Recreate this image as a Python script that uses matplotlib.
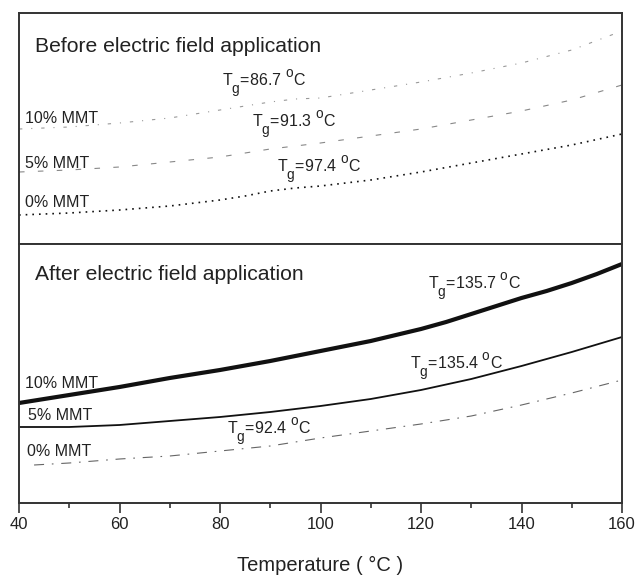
import matplotlib
matplotlib.use("Agg")
import matplotlib.pyplot as plt
from matplotlib.ticker import MultipleLocator
import matplotlib._mathtext as _mt

_mt.SHRINK_FACTOR = 0.85
_mt.FontConstantsBase.sub1 = 0.9
_mt.FontConstantsBase.sub2 = 0.9
_mt.FontConstantsBase.sup1 = 0.9

plt.rcParams['font.family'] = ['Liberation Sans', 'DejaVu Sans']
plt.rcParams['mathtext.fontset'] = 'custom'
plt.rcParams['mathtext.rm'] = 'Liberation Sans'
plt.rcParams['mathtext.it'] = 'Liberation Sans:italic'
plt.rcParams['mathtext.bf'] = 'Liberation Sans:bold'

# ---------------- data (arbitrary heat-flow units) ----------------
# Before electric field application
t_before = [40, 50, 60, 70, 80, 85, 90, 95, 100, 110, 120, 130, 140, 150, 160]
before_0 = [29, 31, 34, 38, 44, 48, 53, 56, 58, 64, 72, 81, 90, 99, 110]
before_5 = [72, 74, 77, 82, 87, 91, 95, 98, 101, 108, 115, 124, 133, 144, 159]
before_10 = [115, 117, 121, 126, 134, 138, 142, 145, 146, 154, 162, 171, 181, 194, 213]

# After electric field application
t_after_10 = [40, 50, 60, 70, 80, 90, 100, 110, 120, 125, 130, 135, 140, 145, 150, 155, 160]
after_10 = [100, 108, 116, 125, 133, 142, 152, 162, 174, 181, 189, 197, 205, 212, 220, 229, 239]
t_after_5 = [40, 50, 60, 70, 80, 90, 100, 110, 120, 130, 140, 150, 160]
after_5 = [76, 76, 78, 82, 86, 91, 97, 104, 113, 124, 137, 151, 166]
t_after_0 = [43, 50, 60, 70, 80, 90, 100, 110, 120, 130, 140, 150, 160]
after_0 = [38, 40, 44, 47, 52, 57, 65, 72, 79, 87, 98, 110, 123]

x_ticks = [40, 60, 80, 100, 120, 140, 160]
tg_before = ["86.7", "91.3", "97.4"]
tg_after = ["135.7", "135.4", "92.4"]
series_labels = ["10% MMT", "5% MMT", "0% MMT"]

# ---------------- figure ----------------
fig = plt.figure(figsize=(6.37, 5.78), dpi=100)
L, W = 19 / 637, 603 / 637
ax_top = fig.add_axes([L, 334 / 578, W, 231 / 578])
ax_bot = fig.add_axes([L, 75 / 578, W, 259 / 578])

spine_col = '#333333'
txt_col = '#222222'
for ax in (ax_top, ax_bot):
    for s in ax.spines.values():
        s.set_color(spine_col)
        s.set_linewidth(1.4)
    ax.set_xlim(40, 160)
    ax.set_yticks([])

ax_top.set_ylim(0, 231)
ax_bot.set_ylim(0, 259)

# top panel curves
ax_top.plot(t_before, before_0, color='#111111', lw=1.2, linestyle=(0, (1, 3)))
ax_top.plot(t_before, before_5, color='#888888', lw=0.8, linestyle=(0, (5, 12)))
ax_top.plot(t_before, before_10, color='#999999', lw=0.8, linestyle=(0, (3, 8, 1, 8)))

# bottom panel curves
ax_bot.plot(t_after_10, after_10, color='#111111', lw=3.0, solid_capstyle='butt',
            solid_joinstyle='round')
ax_bot.plot(t_after_5, after_5, color='#111111', lw=1.3, solid_joinstyle='round')
ax_bot.plot(t_after_0, after_0, color='#666666', lw=0.8, linestyle=(0, (9, 7, 1.5, 7)))

# ticks
ax_top.tick_params(axis='x', which='both', bottom=False, labelbottom=False)
ax_bot.set_xticks(x_ticks)
ax_bot.xaxis.set_minor_locator(MultipleLocator(10))
ax_bot.tick_params(axis='x', which='major', direction='out', length=7, width=1.2,
                   color=spine_col, labelsize=12, labelcolor=txt_col, pad=3)
ax_bot.tick_params(axis='x', which='minor', direction='out', length=3.5, width=1.2,
                   color=spine_col)
ax_bot.set_xlabel("Temperature ( \u00b0C )", fontsize=14.5, color=txt_col, labelpad=17)

# texts, top panel
ax_top.text(43.2, 192, "Before electric field application", fontsize=15.2, color=txt_col, va='baseline')
for lab, y in zip(series_labels, [121, 76, 37]):
    ax_top.text(41.2, y, lab, fontsize=11.5, color=txt_col, va='baseline')
for tg, (x, y) in zip(tg_before, [(80.4, 157), (86.4, 116), (91.3, 71)]):
    ax_top.text(x, y, "T$_\\mathrm{g}$=" + tg + " $^\\mathrm{o}$C", fontsize=11.5,
                color=txt_col, va='baseline')

# texts, bottom panel
ax_bot.text(43.2, 223, "After electric field application", fontsize=15.2, color=txt_col, va='baseline')
for lab, (x, y) in zip(series_labels, [(41.2, 115), (41.8, 83), (41.6, 47)]):
    ax_bot.text(x, y, lab, fontsize=11.5, color=txt_col, va='baseline')
for tg, (x, y) in zip(tg_after, [(121.4, 213), (117.8, 133), (81.4, 68)]):
    ax_bot.text(x, y, "T$_\\mathrm{g}$=" + tg + " $^\\mathrm{o}$C", fontsize=11.5,
                color=txt_col, va='baseline')

fig.savefig("out.png", dpi=100)
